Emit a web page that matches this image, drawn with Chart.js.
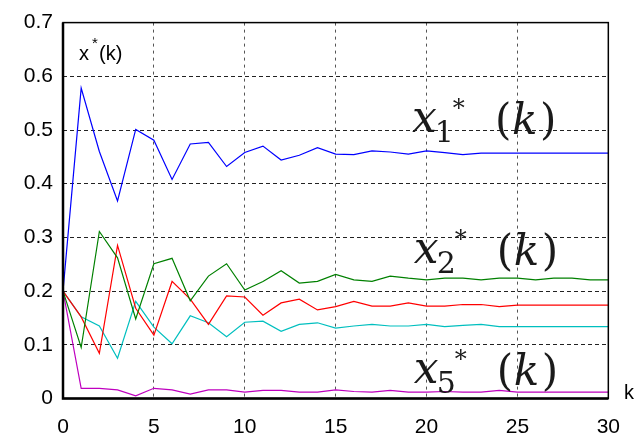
<!DOCTYPE html>
<html>
<head>
<meta charset="utf-8">
<script src="https://cdn.jsdelivr.net/npm/chart.js@4.4.1/dist/chart.umd.min.js"></script>
<style>
  body { margin: 0; background: #fff; }
  canvas { display: block; }
</style>
</head>
<body>
<canvas id="myChart" width="636" height="435"></canvas>
<script>
// pasos k = 0..30
const kSteps = [0, 1, 2, 3, 4, 5, 6, 7, 8, 9, 10, 11, 12, 13, 14, 15, 16, 17, 18, 19, 20,
  21, 22, 23, 24, 25, 26, 27, 28, 29, 30];

// valores
const x1Values = [0.2, 0.578, 0.46, 0.368, 0.501, 0.481, 0.408, 0.474, 0.477, 0.432, 0.458,
  0.470, 0.444, 0.453, 0.467, 0.455, 0.454, 0.461, 0.459, 0.455, 0.461,
  0.458, 0.454, 0.457, 0.457, 0.457, 0.457, 0.457, 0.457, 0.457, 0.457];
const x2Values = [0.2, 0.095, 0.311, 0.262, 0.148, 0.251, 0.261, 0.182, 0.228, 0.251, 0.202,
  0.218, 0.238, 0.215, 0.218, 0.231, 0.221, 0.218, 0.228, 0.224, 0.221,
  0.224, 0.224, 0.221, 0.224, 0.224, 0.221, 0.224, 0.224, 0.221, 0.221];
const x3Values = [0.2, 0.152, 0.084, 0.285, 0.168, 0.118, 0.218, 0.185, 0.138, 0.191, 0.189,
  0.155, 0.178, 0.185, 0.165, 0.171, 0.181, 0.172, 0.172, 0.178, 0.172,
  0.172, 0.175, 0.175, 0.171, 0.174, 0.174, 0.174, 0.174, 0.174, 0.174];
const x4Values = [0.2, 0.152, 0.135, 0.075, 0.181, 0.133, 0.102, 0.154, 0.141, 0.115, 0.142,
  0.144, 0.125, 0.138, 0.141, 0.131, 0.135, 0.138, 0.135, 0.135, 0.138,
  0.134, 0.136, 0.138, 0.134, 0.134, 0.134, 0.134, 0.134, 0.134, 0.134];
const x5Values = [0.2, 0.019, 0.019, 0.016, 0.005, 0.019, 0.016, 0.008, 0.016, 0.016, 0.012,
  0.015, 0.015, 0.012, 0.012, 0.016, 0.013, 0.012, 0.015, 0.012, 0.012,
  0.013, 0.012, 0.012, 0.015, 0.012, 0.012, 0.012, 0.012, 0.012, 0.012];

const xTicks = [0, 5, 10, 15, 20, 25, 30];
const yTicks = [0, 0.1, 0.2, 0.3, 0.4, 0.5, 0.6, 0.7];

// etiquetas x_i*(k) dentro del grafico (coordenadas de datos)
const curveLabels = [
  { sub: "1", k: 19.2, v: 0.496 },
  { sub: "2", k: 19.3, v: 0.253 },
  { sub: "5", k: 19.3, v: 0.028 },
];

function toPoints(values) {
  return kSteps.map((k, i) => ({ x: k, y: values[i] }));
}

function makeSet(values, color) {
  return {
    data: toPoints(values),
    borderColor: color,
    borderWidth: 1.2,
    pointRadius: 0,
    tension: 0,
    fill: false,
  };
}

const framePlugin = {
  id: "frame",
  afterDraw(chart) {
    const ctx = chart.ctx;
    const a = chart.chartArea;
    const xs = chart.scales.x;
    const ys = chart.scales.y;
    ctx.save();

    // marco
    ctx.strokeStyle = "#000";
    ctx.lineWidth = 1.5;
    ctx.strokeRect(a.left, a.top, a.right - a.left, a.bottom - a.top);
    ctx.lineWidth = 2.5;
    ctx.beginPath();
    ctx.moveTo(a.left, a.top);
    ctx.lineTo(a.left, a.bottom);
    ctx.lineTo(a.right, a.bottom);
    ctx.stroke();

    // x*(k)
    ctx.fillStyle = "#000";
    ctx.textBaseline = "alphabetic";
    ctx.textAlign = "left";
    ctx.font = '20px "Liberation Sans"';
    ctx.fillText("x", 79, 60);
    ctx.font = '15px "Liberation Sans"';
    ctx.fillText("*", 92, 48);
    ctx.font = '20px "Liberation Sans"';
    ctx.fillText("(k)", 99, 60);

    // k
    ctx.fillText("k", 624, 399);

    // x_i*(k)
    ctx.fillStyle = "#1a1a1a";
    curveLabels.forEach((lab) => {
      const px = xs.getPixelForValue(lab.k);
      const py = ys.getPixelForValue(lab.v);
      ctx.font = 'italic 44px "DejaVu Serif"';
      ctx.fillText("x", px, py);
      const w = ctx.measureText("x").width;
      ctx.font = '30px "DejaVu Serif"';
      ctx.fillText(lab.sub, px + w - 2, py + 10);
      ctx.font = '24px "DejaVu Serif"';
      ctx.fillText("*", px + w + 16, py - 16);
      ctx.font = '42px "DejaVu Serif"';
      ctx.fillText("(", px + 83, py + 2);
      ctx.font = 'italic 42px "DejaVu Serif"';
      ctx.fillText("k", px + 100, py + 2);
      ctx.font = '42px "DejaVu Serif"';
      ctx.fillText(")", px + 128, py + 2);
    });

    ctx.restore();
  },
};

const ctx = document.getElementById("myChart").getContext("2d");
new Chart(ctx, {
  type: "line",
  data: {
    datasets: [
      makeSet(x1Values, "#0000ff"),
      makeSet(x2Values, "#008000"),
      makeSet(x3Values, "#ff0000"),
      makeSet(x4Values, "#00bfbf"),
      makeSet(x5Values, "#bf00bf"),
    ],
  },
  options: {
    responsive: false,
    animation: false,
    layout: { padding: { top: 15, right: 22, left: 0, bottom: 0 } },
    plugins: { legend: { display: false }, tooltip: { enabled: false } },
    scales: {
      x: {
        type: "linear",
        min: 0,
        max: 30,
        afterBuildTicks: (scale) => {
          scale.ticks = xTicks.map((v) => ({ value: v }));
        },
        afterFit: (scale) => {
          scale.height = 36.5;
        },
        ticks: {
          color: "#000",
          font: { family: "Liberation Sans", size: 21 },
          padding: 16,
          maxRotation: 0,
          callback: (v) => String(v),
        },
        grid: {
          color: "#555",
          lineWidth: 1,
          drawTicks: false,
        },
        border: { display: false, dash: [3, 4] },
      },
      y: {
        type: "linear",
        min: 0,
        max: 0.7,
        afterBuildTicks: (scale) => {
          scale.ticks = yTicks.map((v) => ({ value: v }));
        },
        afterFit: (scale) => {
          scale.width = 63;
        },
        ticks: {
          color: "#000",
          font: { family: "Liberation Sans", size: 21 },
          padding: 10,
          callback: (v) => (v === 0 ? "0" : v.toFixed(1)),
        },
        grid: {
          color: "#222",
          lineWidth: 1,
          drawTicks: false,
        },
        border: { display: false, dash: [4, 3] },
      },
    },
  },
  plugins: [framePlugin],
});
</script>
</body>
</html>
